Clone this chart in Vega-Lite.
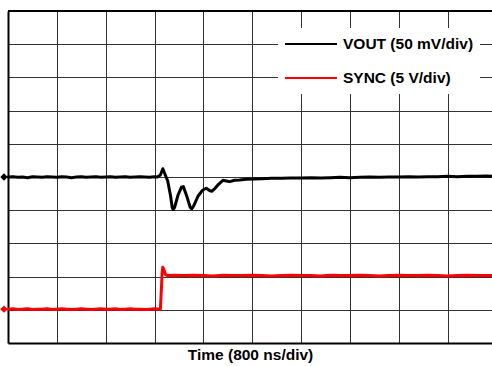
{
  "$schema": "https://vega.github.io/schema/vega-lite/v6.json",
  "width": 484,
  "height": 332,
  "autosize": {"type": "none"},
  "padding": {"left": 8, "top": 11, "right": 0, "bottom": 23},
  "background": "white",
  "config": {
    "view": {"stroke": null},
    "font": "Liberation Sans"
  },
  "datasets": {
    "traces": [
      {"t": 0.0, "v": 5.00, "series": "VOUT (50 mV/div)"},
      {"t": 0.1, "v": 5.01, "series": "VOUT (50 mV/div)"},
      {"t": 0.2, "v": 4.99, "series": "VOUT (50 mV/div)"},
      {"t": 0.3, "v": 5.00, "series": "VOUT (50 mV/div)"},
      {"t": 0.4, "v": 4.98, "series": "VOUT (50 mV/div)"},
      {"t": 0.5, "v": 5.01, "series": "VOUT (50 mV/div)"},
      {"t": 0.6, "v": 5.00, "series": "VOUT (50 mV/div)"},
      {"t": 0.7, "v": 4.99, "series": "VOUT (50 mV/div)"},
      {"t": 0.8, "v": 5.01, "series": "VOUT (50 mV/div)"},
      {"t": 0.9, "v": 5.00, "series": "VOUT (50 mV/div)"},
      {"t": 1.0, "v": 4.99, "series": "VOUT (50 mV/div)"},
      {"t": 1.1, "v": 5.01, "series": "VOUT (50 mV/div)"},
      {"t": 1.2, "v": 5.00, "series": "VOUT (50 mV/div)"},
      {"t": 1.3, "v": 4.98, "series": "VOUT (50 mV/div)"},
      {"t": 1.4, "v": 5.00, "series": "VOUT (50 mV/div)"},
      {"t": 1.5, "v": 5.01, "series": "VOUT (50 mV/div)"},
      {"t": 1.6, "v": 4.99, "series": "VOUT (50 mV/div)"},
      {"t": 1.7, "v": 5.00, "series": "VOUT (50 mV/div)"},
      {"t": 1.8, "v": 5.01, "series": "VOUT (50 mV/div)"},
      {"t": 1.9, "v": 4.99, "series": "VOUT (50 mV/div)"},
      {"t": 2.0, "v": 5.00, "series": "VOUT (50 mV/div)"},
      {"t": 2.1, "v": 5.01, "series": "VOUT (50 mV/div)"},
      {"t": 2.2, "v": 4.99, "series": "VOUT (50 mV/div)"},
      {"t": 2.3, "v": 5.00, "series": "VOUT (50 mV/div)"},
      {"t": 2.4, "v": 5.01, "series": "VOUT (50 mV/div)"},
      {"t": 2.5, "v": 4.99, "series": "VOUT (50 mV/div)"},
      {"t": 2.6, "v": 5.00, "series": "VOUT (50 mV/div)"},
      {"t": 2.7, "v": 5.01, "series": "VOUT (50 mV/div)"},
      {"t": 2.8, "v": 5.00, "series": "VOUT (50 mV/div)"},
      {"t": 2.9, "v": 4.99, "series": "VOUT (50 mV/div)"},
      {"t": 3.0, "v": 5.01, "series": "VOUT (50 mV/div)"},
      {"t": 3.06, "v": 5.00, "series": "VOUT (50 mV/div)"},
      {"t": 3.12, "v": 5.06, "series": "VOUT (50 mV/div)"},
      {"t": 3.17, "v": 5.25, "series": "VOUT (50 mV/div)"},
      {"t": 3.21, "v": 5.10, "series": "VOUT (50 mV/div)"},
      {"t": 3.27, "v": 4.88, "series": "VOUT (50 mV/div)"},
      {"t": 3.33, "v": 4.42, "series": "VOUT (50 mV/div)"},
      {"t": 3.36, "v": 4.10, "series": "VOUT (50 mV/div)"},
      {"t": 3.38, "v": 4.02, "series": "VOUT (50 mV/div)"},
      {"t": 3.41, "v": 4.08, "series": "VOUT (50 mV/div)"},
      {"t": 3.48, "v": 4.45, "series": "VOUT (50 mV/div)"},
      {"t": 3.55, "v": 4.69, "series": "VOUT (50 mV/div)"},
      {"t": 3.59, "v": 4.71, "series": "VOUT (50 mV/div)"},
      {"t": 3.67, "v": 4.38, "series": "VOUT (50 mV/div)"},
      {"t": 3.73, "v": 4.09, "series": "VOUT (50 mV/div)"},
      {"t": 3.76, "v": 4.04, "series": "VOUT (50 mV/div)"},
      {"t": 3.80, "v": 4.12, "series": "VOUT (50 mV/div)"},
      {"t": 3.89, "v": 4.42, "series": "VOUT (50 mV/div)"},
      {"t": 3.98, "v": 4.60, "series": "VOUT (50 mV/div)"},
      {"t": 4.06, "v": 4.66, "series": "VOUT (50 mV/div)"},
      {"t": 4.12, "v": 4.60, "series": "VOUT (50 mV/div)"},
      {"t": 4.17, "v": 4.57, "series": "VOUT (50 mV/div)"},
      {"t": 4.24, "v": 4.66, "series": "VOUT (50 mV/div)"},
      {"t": 4.31, "v": 4.78, "series": "VOUT (50 mV/div)"},
      {"t": 4.40, "v": 4.90, "series": "VOUT (50 mV/div)"},
      {"t": 4.47, "v": 4.88, "series": "VOUT (50 mV/div)"},
      {"t": 4.54, "v": 4.86, "series": "VOUT (50 mV/div)"},
      {"t": 4.64, "v": 4.90, "series": "VOUT (50 mV/div)"},
      {"t": 4.74, "v": 4.91, "series": "VOUT (50 mV/div)"},
      {"t": 4.88, "v": 4.93, "series": "VOUT (50 mV/div)"},
      {"t": 5.02, "v": 4.94, "series": "VOUT (50 mV/div)"},
      {"t": 5.2, "v": 4.95, "series": "VOUT (50 mV/div)"},
      {"t": 5.4, "v": 4.96, "series": "VOUT (50 mV/div)"},
      {"t": 5.6, "v": 4.96, "series": "VOUT (50 mV/div)"},
      {"t": 5.8, "v": 4.97, "series": "VOUT (50 mV/div)"},
      {"t": 6.0, "v": 4.97, "series": "VOUT (50 mV/div)"},
      {"t": 6.2, "v": 4.98, "series": "VOUT (50 mV/div)"},
      {"t": 6.4, "v": 4.97, "series": "VOUT (50 mV/div)"},
      {"t": 6.6, "v": 4.98, "series": "VOUT (50 mV/div)"},
      {"t": 6.8, "v": 4.99, "series": "VOUT (50 mV/div)"},
      {"t": 7.0, "v": 4.98, "series": "VOUT (50 mV/div)"},
      {"t": 7.2, "v": 4.99, "series": "VOUT (50 mV/div)"},
      {"t": 7.4, "v": 5.00, "series": "VOUT (50 mV/div)"},
      {"t": 7.6, "v": 4.99, "series": "VOUT (50 mV/div)"},
      {"t": 7.8, "v": 5.00, "series": "VOUT (50 mV/div)"},
      {"t": 8.0, "v": 5.00, "series": "VOUT (50 mV/div)"},
      {"t": 8.2, "v": 5.01, "series": "VOUT (50 mV/div)"},
      {"t": 8.4, "v": 5.00, "series": "VOUT (50 mV/div)"},
      {"t": 8.6, "v": 5.01, "series": "VOUT (50 mV/div)"},
      {"t": 8.8, "v": 5.01, "series": "VOUT (50 mV/div)"},
      {"t": 9.0, "v": 5.02, "series": "VOUT (50 mV/div)"},
      {"t": 9.2, "v": 5.01, "series": "VOUT (50 mV/div)"},
      {"t": 9.4, "v": 5.02, "series": "VOUT (50 mV/div)"},
      {"t": 9.6, "v": 5.02, "series": "VOUT (50 mV/div)"},
      {"t": 9.8, "v": 5.03, "series": "VOUT (50 mV/div)"},
      {"t": 9.91, "v": 5.02, "series": "VOUT (50 mV/div)"},
      {"t": 0.0, "v": 1.02, "series": "SYNC (5 V/div)"},
      {"t": 0.1, "v": 1.03, "series": "SYNC (5 V/div)"},
      {"t": 0.2, "v": 1.01, "series": "SYNC (5 V/div)"},
      {"t": 0.3, "v": 1.02, "series": "SYNC (5 V/div)"},
      {"t": 0.4, "v": 1.03, "series": "SYNC (5 V/div)"},
      {"t": 0.5, "v": 1.01, "series": "SYNC (5 V/div)"},
      {"t": 0.6, "v": 1.02, "series": "SYNC (5 V/div)"},
      {"t": 0.7, "v": 1.02, "series": "SYNC (5 V/div)"},
      {"t": 0.8, "v": 1.03, "series": "SYNC (5 V/div)"},
      {"t": 0.9, "v": 1.01, "series": "SYNC (5 V/div)"},
      {"t": 1.0, "v": 1.02, "series": "SYNC (5 V/div)"},
      {"t": 1.1, "v": 1.03, "series": "SYNC (5 V/div)"},
      {"t": 1.2, "v": 1.02, "series": "SYNC (5 V/div)"},
      {"t": 1.3, "v": 1.01, "series": "SYNC (5 V/div)"},
      {"t": 1.4, "v": 1.02, "series": "SYNC (5 V/div)"},
      {"t": 1.5, "v": 1.03, "series": "SYNC (5 V/div)"},
      {"t": 1.6, "v": 1.02, "series": "SYNC (5 V/div)"},
      {"t": 1.7, "v": 1.01, "series": "SYNC (5 V/div)"},
      {"t": 1.8, "v": 1.02, "series": "SYNC (5 V/div)"},
      {"t": 1.9, "v": 1.03, "series": "SYNC (5 V/div)"},
      {"t": 2.0, "v": 1.02, "series": "SYNC (5 V/div)"},
      {"t": 2.1, "v": 1.02, "series": "SYNC (5 V/div)"},
      {"t": 2.2, "v": 1.03, "series": "SYNC (5 V/div)"},
      {"t": 2.3, "v": 1.01, "series": "SYNC (5 V/div)"},
      {"t": 2.4, "v": 1.02, "series": "SYNC (5 V/div)"},
      {"t": 2.5, "v": 1.03, "series": "SYNC (5 V/div)"},
      {"t": 2.6, "v": 1.02, "series": "SYNC (5 V/div)"},
      {"t": 2.7, "v": 1.02, "series": "SYNC (5 V/div)"},
      {"t": 2.8, "v": 1.01, "series": "SYNC (5 V/div)"},
      {"t": 2.9, "v": 1.02, "series": "SYNC (5 V/div)"},
      {"t": 3.0, "v": 1.03, "series": "SYNC (5 V/div)"},
      {"t": 3.12, "v": 1.02, "series": "SYNC (5 V/div)"},
      {"t": 3.14, "v": 1.60, "series": "SYNC (5 V/div)"},
      {"t": 3.155, "v": 2.10, "series": "SYNC (5 V/div)"},
      {"t": 3.17, "v": 2.28, "series": "SYNC (5 V/div)"},
      {"t": 3.19, "v": 2.22, "series": "SYNC (5 V/div)"},
      {"t": 3.22, "v": 2.07, "series": "SYNC (5 V/div)"},
      {"t": 3.26, "v": 2.03, "series": "SYNC (5 V/div)"},
      {"t": 3.4, "v": 2.04, "series": "SYNC (5 V/div)"},
      {"t": 3.6, "v": 2.03, "series": "SYNC (5 V/div)"},
      {"t": 3.8, "v": 2.04, "series": "SYNC (5 V/div)"},
      {"t": 4.0, "v": 2.03, "series": "SYNC (5 V/div)"},
      {"t": 4.2, "v": 2.02, "series": "SYNC (5 V/div)"},
      {"t": 4.4, "v": 2.04, "series": "SYNC (5 V/div)"},
      {"t": 4.6, "v": 2.03, "series": "SYNC (5 V/div)"},
      {"t": 4.8, "v": 2.03, "series": "SYNC (5 V/div)"},
      {"t": 5.0, "v": 2.04, "series": "SYNC (5 V/div)"},
      {"t": 5.2, "v": 2.03, "series": "SYNC (5 V/div)"},
      {"t": 5.4, "v": 2.02, "series": "SYNC (5 V/div)"},
      {"t": 5.6, "v": 2.03, "series": "SYNC (5 V/div)"},
      {"t": 5.8, "v": 2.04, "series": "SYNC (5 V/div)"},
      {"t": 6.0, "v": 2.03, "series": "SYNC (5 V/div)"},
      {"t": 6.2, "v": 2.03, "series": "SYNC (5 V/div)"},
      {"t": 6.4, "v": 2.02, "series": "SYNC (5 V/div)"},
      {"t": 6.6, "v": 2.04, "series": "SYNC (5 V/div)"},
      {"t": 6.8, "v": 2.03, "series": "SYNC (5 V/div)"},
      {"t": 7.0, "v": 2.03, "series": "SYNC (5 V/div)"},
      {"t": 7.2, "v": 2.04, "series": "SYNC (5 V/div)"},
      {"t": 7.4, "v": 2.03, "series": "SYNC (5 V/div)"},
      {"t": 7.6, "v": 2.02, "series": "SYNC (5 V/div)"},
      {"t": 7.8, "v": 2.03, "series": "SYNC (5 V/div)"},
      {"t": 8.0, "v": 2.04, "series": "SYNC (5 V/div)"},
      {"t": 8.2, "v": 2.03, "series": "SYNC (5 V/div)"},
      {"t": 8.4, "v": 2.03, "series": "SYNC (5 V/div)"},
      {"t": 8.6, "v": 2.04, "series": "SYNC (5 V/div)"},
      {"t": 8.8, "v": 2.03, "series": "SYNC (5 V/div)"},
      {"t": 9.0, "v": 2.02, "series": "SYNC (5 V/div)"},
      {"t": 9.2, "v": 2.03, "series": "SYNC (5 V/div)"},
      {"t": 9.4, "v": 2.04, "series": "SYNC (5 V/div)"},
      {"t": 9.6, "v": 2.03, "series": "SYNC (5 V/div)"},
      {"t": 9.8, "v": 2.03, "series": "SYNC (5 V/div)"},
      {"t": 9.91, "v": 2.03, "series": "SYNC (5 V/div)"}
    ]
  },
  "data": {"name": "traces"},
  "encoding": {
    "x": {
      "field": "t",
      "type": "quantitative",
      "scale": {"domain": [0, 9.91], "nice": false, "zero": false},
      "axis": {
        "title": "Time (800 ns/div)",
        "titleFont": "Liberation Sans",
        "titleFontSize": 15.5,
        "titleFontWeight": "bold",
        "titleColor": "black",
        "titlePadding": 4,
        "values": [1, 2, 3, 4, 5, 6, 7, 8, 9],
        "labels": false,
        "ticks": false,
        "domain": true,
        "domainColor": "black",
        "domainWidth": 2,
        "grid": true,
        "gridColor": "#333333",
        "gridWidth": 1,
        "gridOpacity": 1
      }
    },
    "y": {
      "field": "v",
      "type": "quantitative",
      "scale": {"domain": [0, 10], "nice": false, "zero": false},
      "axis": {
        "title": null,
        "values": [1, 2, 3, 4, 5, 6, 7, 8, 9],
        "labels": false,
        "ticks": false,
        "domain": true,
        "domainColor": "black",
        "domainWidth": 2,
        "grid": true,
        "gridColor": "#333333",
        "gridWidth": 1,
        "gridOpacity": 1
      }
    },
    "color": {
      "field": "series",
      "type": "nominal",
      "scale": {"domain": ["VOUT (50 mV/div)", "SYNC (5 V/div)"], "range": ["#000000", "#ff0000"]},
      "legend": {
        "title": null,
        "orient": "none",
        "legendX": 270,
        "legendY": 17,
        "fillColor": "white",
        "padding": 6,
        "symbolType": "stroke",
        "symbolSize": 2704,
        "symbolStrokeWidth": 2,
        "clipHeight": 20,
        "labelFont": "Liberation Sans",
        "labelFontSize": 15.5,
        "labelFontWeight": "bold",
        "labelColor": "black",
        "labelOffset": 5,
        "rowPadding": 14
      }
    }
  },
  "layer": [
    {
      "mark": {"type": "line", "strokeWidth": 3, "strokeJoin": "round", "strokeCap": "round"}
    },
    {
      "transform": [{"filter": "datum.t == 0"}],
      "mark": {"type": "point", "shape": "diamond", "filled": true, "size": 55, "opacity": 1, "xOffset": -4, "clip": false},
      "encoding": {"color": {"field": "series", "type": "nominal", "legend": null}}
    },
    {
      "mark": {"type": "rule", "stroke": "black", "strokeWidth": 2},
      "encoding": {"x": {"datum": 0}, "x2": {"datum": 9.91}, "y": {"datum": 10}, "color": {"value": "black"}}
    }
  ]
}
